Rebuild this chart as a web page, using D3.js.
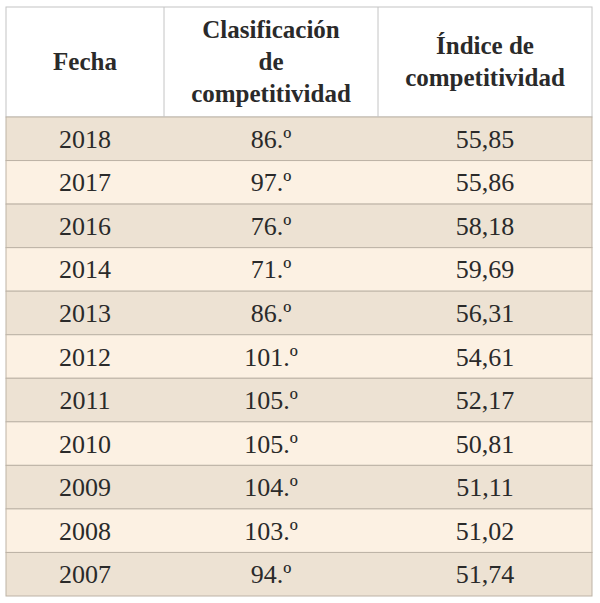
<!DOCTYPE html>
<meta charset="utf-8">
<style>
body{margin:0;background:#fff;}
text{font-family:"Liberation Serif","DejaVu Serif",serif;fill:#2a2a2a;}
</style>
<body>
<svg id="chart" width="600" height="603"></svg>
<script src="https://d3js.org/d3.v7.min.js"></script>
<script>
var headers = [["Fecha"], ["Clasificación", "de", "competitividad"], ["Índice de", "competitividad"]];
var years = ["2018","2017","2016","2014","2013","2012","2011","2010","2009","2008","2007"];
var ranks = ["86.º","97.º","76.º","71.º","86.º","101.º","105.º","105.º","104.º","103.º","94.º"];
var scores = ["55,85","55,86","58,18","59,69","56,31","54,61","52,17","50,81","51,11","51,02","51,74"];

var svg = d3.select("#chart");
var colEdges = [6, 164, 378, 592];
var tableTop = 7, headH = 110, tableBottom = 596;
var y = d3.scaleBand().domain(d3.range(years.length)).range([tableTop + headH, tableBottom]);

// header
svg.append("rect").attr("x", 6).attr("y", tableTop).attr("width", 586).attr("height", headH)
  .attr("fill", "#fff").attr("stroke", "#c4c4c4");
headers.forEach(function(lines, c){
  var cx = (colEdges[c] + colEdges[c+1]) / 2;
  var lh = 32, y0 = tableTop + headH/2 - (lines.length - 1) * lh / 2 + 8;
  lines.forEach(function(l, i){
    svg.append("text").attr("x", cx).attr("y", y0 + i*lh).attr("text-anchor", "middle")
      .attr("font-size", 25).attr("font-weight", "bold").text(l);
  });
});

var cols = [years, ranks, scores];
svg.selectAll("rect.row").data(years).enter().append("rect").attr("class", "row")
  .attr("x", 6).attr("y", function(d, i){ return y(i); })
  .attr("width", 586).attr("height", y.bandwidth())
  .attr("fill", function(d, i){ return i % 2 ? "#fcf1e3" : "#ede2d3"; })
  .attr("stroke", "#bdb3a6");
cols.forEach(function(arr, c){
  var cx = (colEdges[c] + colEdges[c+1]) / 2;
  svg.selectAll(null).data(arr).enter().append("text")
    .attr("x", cx).attr("y", function(d, i){ return y(i) + y.bandwidth()/2 + 9; })
    .attr("text-anchor", "middle").attr("font-size", 26).text(function(d){ return d; });
});
// vertical lines in header
[164, 378].forEach(function(x){
  svg.append("line").attr("x1", x).attr("x2", x).attr("y1", tableTop).attr("y2", tableTop + headH).attr("stroke", "#c4c4c4");
});
</script>
</body>
